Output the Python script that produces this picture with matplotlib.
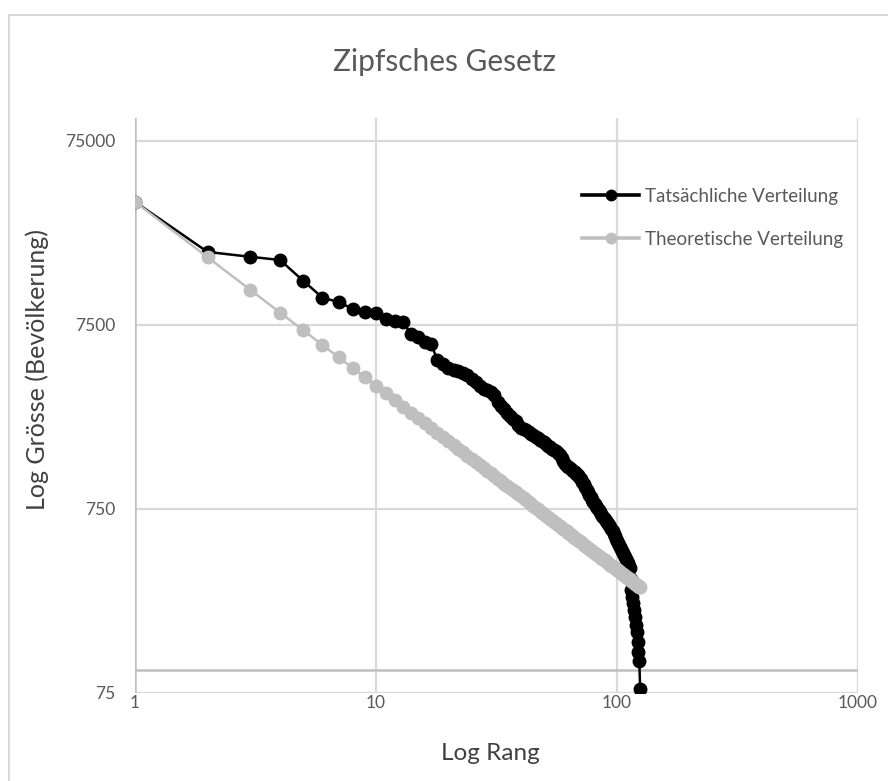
import numpy as np
import matplotlib
matplotlib.use("Agg")
import matplotlib.pyplot as plt
from matplotlib.lines import Line2D

plt.rcParams['font.family'] = ['Lato', 'DejaVu Sans']

# ---- data ----
title = "Zipfsches Gesetz"
x_label = "Log Rang"
y_label = "Log Grösse (Bevölkerung)"
series_names = ["Tatsächliche Verteilung", "Theoretische Verteilung"]

actual = [
    35000, 18700, 17600, 16900, 13000, 10550, 9980, 9190, 8800, 8750,
    8040, 7890, 7740, 6660, 6410, 6020, 5870, 4810, 4570, 4350,
    4290, 4190, 4110, 3980, 3830, 3650, 3490, 3380, 3300, 3220,
    3100, 2870, 2730, 2600, 2500, 2410, 2320, 2240, 2150, 2070,
    2040, 2000, 1960, 1920, 1890, 1850, 1820, 1780, 1750, 1720,
    1690, 1655, 1625, 1595, 1565, 1545, 1515, 1480, 1420, 1360,
    1312, 1288, 1272, 1256, 1225, 1209, 1187, 1165, 1143, 1122,
    1087, 1054, 1021, 990, 953, 923, 895, 868, 841, 820,
    800, 780, 761, 742, 723, 705, 688, 675, 662, 646,
    634, 622, 611, 599, 584, 566, 549, 532, 516, 503,
    490, 478, 466, 455, 444, 433, 422, 411, 401, 391,
    379, 367, 358, 312, 272, 249, 230, 212, 194, 175,
    161, 142, 125, 111, 79,
]

theoretical = [
    35000, 17500, 11667, 8750, 7000, 5833, 5000, 4375, 3889, 3500,
    3182, 2917, 2692, 2500, 2333, 2188, 2059, 1944, 1842, 1750,
    1667, 1591, 1522, 1458, 1400, 1346, 1296, 1250, 1207, 1167,
    1129, 1094, 1061, 1029, 1000, 972, 946, 921, 897, 875,
    854, 833, 814, 795, 778, 761, 745, 729, 714, 700,
    686, 673, 660, 648, 636, 625, 614, 603, 593, 583,
    574, 565, 556, 547, 538, 530, 522, 515, 507, 500,
    493, 486, 479, 473, 467, 461, 455, 449, 443, 438,
    432, 427, 422, 417, 412, 407, 402, 398, 393, 389,
    385, 380, 376, 372, 368, 365, 361, 357, 354, 350,
    347, 343, 340, 337, 333, 330, 327, 324, 321, 318,
    315, 313, 310, 307, 304, 302, 299, 297, 294, 292,
    289, 287, 285, 282, 280,
]

x_ticks = [1, 10, 100, 1000]
x_tick_labels = ["1", "10", "100", "1000"]
y_ticks = [75, 750, 7500, 75000]
y_tick_labels = ["75", "750", "7500", "75000"]

ranks = np.arange(1, len(actual) + 1)

# ---- figure ----
W, H = 888, 781
fig = plt.figure(figsize=(W / 100, H / 100), dpi=100)
fig.patch.set_facecolor("white")

# chart border
border = plt.Rectangle((9 / W, -0.01), 1.05, (H - 15) / H + 0.01,
                       transform=fig.transFigure, fill=False,
                       edgecolor="#D9D9D9", linewidth=1.5)
fig.patches.append(border)

L, R, T, B = 135, 857.7, 118, 692.7
ax = fig.add_axes([L / W, 1 - B / H, (R - L) / W, (B - T) / H])
ax.set_xscale("log")
ax.set_yscale("log")
ax.set_xlim(1, 1000)
ax.set_ylim(75, 100000)

for s in ax.spines.values():
    s.set_visible(False)

grid_c = "#D9D9D9"
for yv in y_ticks:
    ax.axhline(yv, color=grid_c, lw=1.6, zorder=0)
for xv in x_ticks[1:]:
    ax.axvline(xv, color=grid_c, lw=1.6, zorder=0)
# axis lines
ax.axvline(1, color="#BFBFBF", lw=1.8, zorder=1)
ax.axhline(100, color="#BFBFBF", lw=1.8, zorder=1)

ax.xaxis.set_minor_locator(matplotlib.ticker.NullLocator())
ax.yaxis.set_minor_locator(matplotlib.ticker.NullLocator())
ax.set_xticks(x_ticks)
ax.set_xticklabels(x_tick_labels)
ax.set_yticks(y_ticks)
ax.set_yticklabels(y_tick_labels)
ax.tick_params(axis="both", length=0, labelsize=12.5, labelcolor="#595959")
ax.tick_params(axis="x", pad=2)
ax.tick_params(axis="y", pad=14)

black = "#000000"
gray = "#BFBFBF"
ax.plot(ranks, actual, color=black, lw=1.8, marker="o", ms=9,
        mfc=black, mec=black, zorder=3, label=series_names[0])
ax.plot(ranks, theoretical, color=gray, lw=1.8, marker="o", ms=9,
        mfc=gray, mec=gray, zorder=4, label=series_names[1])

handles = [
    Line2D([], [], color=black, lw=2.6, marker="o", ms=7.5, mfc=black, mec=black),
    Line2D([], [], color=gray, lw=2.6, marker="o", ms=7.5, mfc=gray, mec=gray),
]
leg = ax.legend(handles, series_names, loc="upper left",
                bbox_to_anchor=(582 / W, 1 - 188 / H), bbox_transform=fig.transFigure,
                frameon=False, fontsize=13.5, handlelength=3.05, handletextpad=0.3,
                labelspacing=1.38, borderpad=0, borderaxespad=0)
for t in leg.get_texts():
    t.set_color("#595959")

fig.text(444 / W, 1 - 62 / H, title, ha="center", va="center",
         fontsize=21.5, color="#595959")
fig.text(490 / W, 1 - 753 / H, x_label, ha="center", va="center",
         fontsize=17.5, color="#404040")
fig.text(37 / W, 1 - 370 / H, y_label, ha="center", va="center",
         rotation=90, fontsize=18, color="#404040")

fig.savefig("out.png", dpi=100)
